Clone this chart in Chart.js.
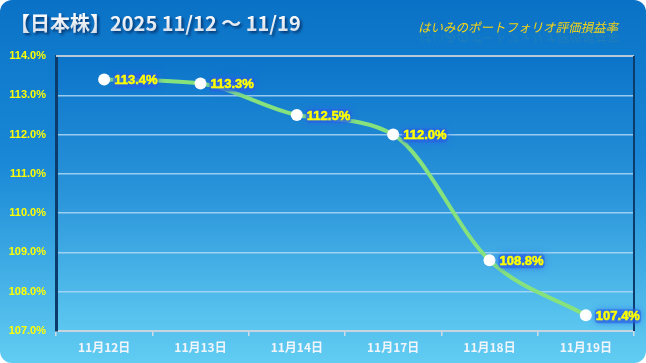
<!DOCTYPE html>
<html>
<head>
<meta charset="utf-8">
<script src="https://cdn.jsdelivr.net/npm/chart.js@4"></script>
<style>
  html, body { margin: 0; padding: 0; background: #ffffff; }
  #wrap { width: 646px; height: 363px; }
</style>
</head>
<body>
<div id="wrap"><canvas id="chart" width="646" height="363"></canvas></div>
<script>
// chart values
const labels = ['11月12日', '11月13日', '11月14日', '11月17日', '11月18日', '11月19日'];
const values = [113.4, 113.3, 112.5, 112.0, 108.8, 107.4];
const yTicks = [107, 108, 109, 110, 111, 112, 113, 114];
const titleText = '【日本株】2025 11/12 ～ 11/19';
const subTitle = 'はいみのポートフォリオ評価損益率';

const JP = '"Noto Sans CJK JP", "Noto Sans", sans-serif';
const LAT = '"Liberation Sans", Arial, sans-serif';

// rounded background with blue gradient + titles
const backdrop = {
    id: 'backdrop',
    beforeDraw(chart) {
        const ctx = chart.ctx;
        const w = chart.width, h = chart.height;
        ctx.save();
        const g = ctx.createLinearGradient(0, 0, 0, h);
        g.addColorStop(0, '#0a72c6');
        g.addColorStop(0.45, '#1a88d6');
        g.addColorStop(1, '#62cdf2');
        ctx.fillStyle = g;
        ctx.beginPath();
        ctx.roundRect(0, 0, w, h, 12);
        ctx.fill();

        const a = chart.chartArea;
        const g2 = ctx.createLinearGradient(0, a.top, 0, a.bottom);
        g2.addColorStop(0, '#0b74c9');
        g2.addColorStop(0.5, '#2a94da');
        g2.addColorStop(1, '#5cc8f0');
        ctx.fillStyle = g2;
        ctx.fillRect(a.left, a.top, a.right - a.left, a.bottom - a.top);

        // title
        ctx.font = 'bold 20px ' + JP;
        ctx.textBaseline = 'middle';
        ctx.textAlign = 'left';
        ctx.shadowColor = 'rgba(0,30,80,0.75)';
        ctx.shadowBlur = 3;
        ctx.shadowOffsetX = 2;
        ctx.shadowOffsetY = 2;
        const tg = ctx.createLinearGradient(0, 12, 0, 34);
        tg.addColorStop(0, '#ffffff');
        tg.addColorStop(1, '#d4dde8');
        ctx.fillStyle = tg;
        ctx.fillText(titleText, 10, 23);

        ctx.shadowColor = 'transparent';
        ctx.shadowOffsetX = 0;
        ctx.shadowOffsetY = 0;
        ctx.font = 'italic 12.5px ' + JP;
        ctx.fillStyle = '#f6d414';
        ctx.fillText(subTitle, 418, 27);
        // faint reflection
        ctx.save();
        ctx.globalAlpha = 0.08;
        ctx.translate(0, 54);
        ctx.scale(1, -1);
        ctx.fillText(subTitle, 418, 16);
        ctx.restore();
        ctx.restore();
    },
    afterDatasetsDraw(chart) {
        const ctx = chart.ctx;
        const a = chart.chartArea;
        ctx.save();
        ctx.strokeStyle = '#b8c8d8';
        ctx.lineWidth = 2;
        ctx.beginPath();
        ctx.moveTo(a.left, a.top);
        ctx.lineTo(a.right, a.top);
        ctx.stroke();
        ctx.strokeStyle = '#0b3c6c';
        ctx.beginPath();
        ctx.moveTo(a.right, a.top);
        ctx.lineTo(a.right, a.bottom);
        ctx.stroke();

        // value labels with blue glow
        const meta = chart.getDatasetMeta(0);
        ctx.font = 'bold 13px ' + LAT;
        ctx.textBaseline = 'middle';
        ctx.textAlign = 'left';
        meta.data.forEach((pt, i) => {
            const txt = values[i].toFixed(1) + '%';
            const x = pt.x + 10, y = pt.y + 1;
            const tw = ctx.measureText(txt).width;
            ctx.shadowColor = '#2a64ee';
            ctx.shadowBlur = 6;
            ctx.fillStyle = 'rgba(40,95,225,0.6)';
            ctx.beginPath();
            ctx.roundRect(x - 1, y - 7, tw + 2, 14, 4);
            ctx.fill();
            ctx.shadowBlur = 0;
            ctx.shadowColor = 'transparent';
            ctx.fillStyle = '#ffff00';
            ctx.strokeStyle = '#ffff00';
            ctx.lineWidth = 0.5;
            ctx.fillText(txt, x, y);
            ctx.strokeText(txt, x, y);
        });
        ctx.restore();
    }
};

new Chart(document.getElementById('chart'), {
    type: 'line',
    data: {
        labels: labels,
        datasets: [{
            data: values,
            borderColor: '#86e27c',
            borderWidth: 4,
            cubicInterpolationMode: 'monotone',
            pointRadius: 6,
            pointBackgroundColor: '#ffffff',
            pointBorderColor: '#ffffff',
            pointBorderWidth: 0,
            pointHoverRadius: 6
        }]
    },
    options: {
        responsive: false,
        animation: false,
        events: [],
        layout: { padding: { top: 56, right: 12, left: 0, bottom: 0 } },
        plugins: { legend: { display: false }, tooltip: { enabled: false } },
        scales: {
            x: {
                offset: true,
                afterFit: (s) => { s.height = 32; },
                grid: {
                    offset: true,
                    drawOnChartArea: false,
                    drawTicks: true,
                    tickLength: 5,
                    color: '#d0dbe6',
                    lineWidth: 1.5
                },
                border: { color: '#c8d4e0', width: 2 },
                ticks: {
                    color: '#f2f6fb',
                    font: { family: JP, size: 12, weight: 'bold' },
                    padding: 4
                }
            },
            y: {
                min: 107,
                max: 114,
                afterFit: (s) => { s.width = 56; },
                afterBuildTicks: (s) => { s.ticks = yTicks.map(v => ({ value: v })); },
                grid: {
                    drawTicks: false,
                    color: (c) => (c.tick.value === 107 || c.tick.value === 114) ? 'rgba(0,0,0,0)' : 'rgba(175,215,245,0.85)',
                    lineWidth: 1.5
                },
                border: { color: '#0b3c6c', width: 3 },
                ticks: {
                    color: '#ffff00',
                    font: { family: LAT, size: 11, weight: 'bold' },
                    padding: 10,
                    callback: (v) => v.toFixed(1) + '%'
                }
            }
        }
    },
    plugins: [backdrop]
});
</script>
</body>
</html>
